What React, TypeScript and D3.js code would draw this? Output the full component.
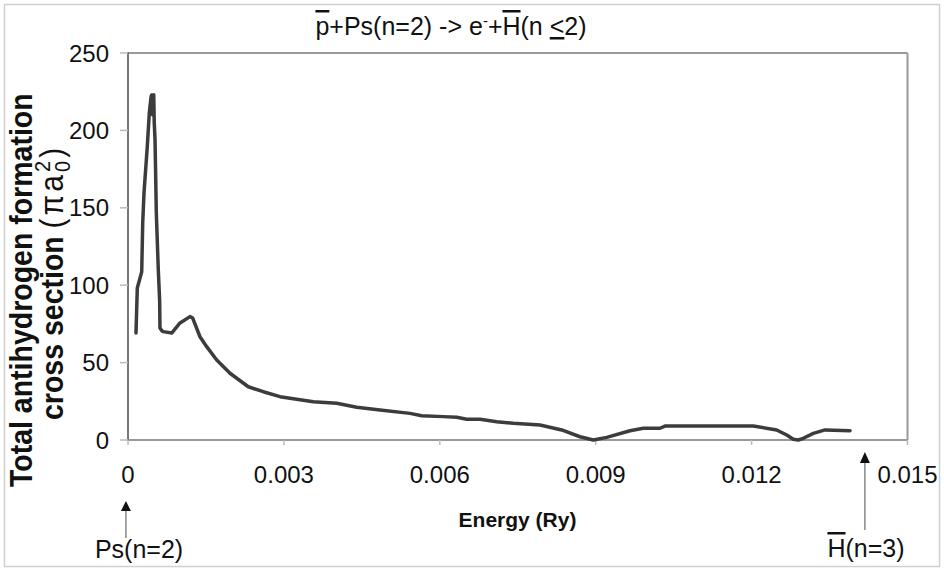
import React from "react";
import * as d3 from "d3";

const energy = [
  0.000154, 0.000179, 0.000264, 0.000283, 0.000308, 0.000371, 0.00041, 0.000445, 0.000456,
  0.000475, 0.00048, 0.000495, 0.000505, 0.00052, 0.000545, 0.000583, 0.000609, 0.000615,
  0.000655, 0.000679, 0.000841, 0.001001, 0.001193, 0.001245, 0.001385, 0.001514, 0.001707,
  0.001963, 0.002092, 0.002315, 0.002604, 0.002925, 0.003566, 0.004016, 0.004401, 0.004849,
  0.005427, 0.005652, 0.006067, 0.006325, 0.006518, 0.006774, 0.007095, 0.007414, 0.007928,
  0.008346, 0.008698, 0.008954, 0.009212, 0.00966, 0.009916, 0.010237, 0.010333, 0.012033,
  0.012483, 0.012676, 0.012803, 0.012899, 0.012995, 0.013188, 0.013413, 0.013894,
];
const crossSection = [
  69.1, 98.2, 108.7, 140.2, 159.6, 189.5, 211.2, 222.0, 222.9,
  210.0, 222.5, 222.9, 205.0, 194.0, 146.6, 110.0, 90.0, 72.4,
  70.4, 70.0, 69.1, 75.6, 79.7, 78.8, 66.7, 60.3, 51.7,
  43.1, 39.9, 34.4, 31.2, 28.0, 24.7, 23.7, 21.1, 19.4,
  17.2, 15.7, 15.1, 14.7, 13.4, 13.4, 11.8, 10.8, 9.7,
  6.5, 2.1, 0, 1.7, 6.0, 7.6, 7.6, 9.0, 9.0,
  6.5, 3.2, 0.5, 0, 1.1, 4.3, 6.5, 6.0,
];
const xTicks = [0, 0.003, 0.006, 0.009, 0.012, 0.015];
const xTickLabels = ["0", "0.003", "0.006", "0.009", "0.012", "0.015"];
const yTicks = [0, 50, 100, 150, 200, 250];
const markers = [
  { e: -0.00004, label: "Ps(n=2)" },
  { e: 0.01418, label: "H(n=3)" },
];

export default function App() {
  const W = 944, H = 571;
  const L = 128, R = 907.5, T = 53, B = 440;
  const x = d3.scaleLinear().domain([0, 0.015]).range([L, R]);
  const y = d3.scaleLinear().domain([0, 250]).range([B, T]);
  const pts: [number, number][] = energy.map((e, i) => [e, crossSection[i]]);
  const line = d3
    .line<[number, number]>()
    .x((d) => x(d[0]))
    .y((d) => y(d[1]));
  const font = "'Liberation Sans', Arial, sans-serif";
  const ps = markers[0];
  const hb = markers[1];
  return (
    <svg
      width={W}
      height={H}
      style={{ position: "absolute", left: 0, top: 0, background: "#fff" }}
      fontFamily={font}
    >
      <rect x={0} y={0} width={W} height={H} fill="#fff" />
      <rect x={4.5} y={4.5} width={935} height={562} fill="none" stroke="#d0d0d0" strokeWidth={1.5} />
      {/* title */}
      <text x={451} y={35} fontSize={25} textAnchor="middle" fill="#111">
        <tspan textDecoration="overline">p</tspan>
        <tspan>+Ps(n=2) -&gt; e</tspan>
        <tspan dy={-9} fontSize={15}>-</tspan>
        <tspan dy={9}>+</tspan>
        <tspan textDecoration="overline">H</tspan>
        <tspan>(n </tspan>
        <tspan textDecoration="underline">&lt;</tspan>
        <tspan>2)</tspan>
      </text>
      {/* plot frame */}
      <line x1={L} x2={R} y1={T} y2={T} stroke="#999" strokeWidth={2} />
      <line x1={R} x2={R} y1={T} y2={B} stroke="#999" strokeWidth={2} />
      <line x1={L} x2={R} y1={B} y2={B} stroke="#999" strokeWidth={2} />
      <line x1={L} x2={L} y1={T - 1} y2={B + 1} stroke="#777" strokeWidth={2} />
      {/* y ticks */}
      {yTicks.map((t) => (
        <g key={"y" + t}>
          <line x1={L - 8} x2={L} y1={y(t)} y2={y(t)} stroke="#bbb" strokeWidth={1.5} />
          <text x={109} y={y(t) + 8.5} fontSize={24} textAnchor="end" fill="#111">
            {t}
          </text>
        </g>
      ))}
      {/* x ticks */}
      {xTicks.map((t, i) => (
        <g key={"x" + t}>
          <line x1={x(t)} x2={x(t)} y1={B} y2={B + 5} stroke="#bbb" strokeWidth={1.5} />
          <text x={x(t)} y={483} fontSize={24} textAnchor="middle" fill="#111">
            {xTickLabels[i]}
          </text>
        </g>
      ))}
      {/* curve */}
      <path d={line(pts) || ""} fill="none" stroke="#3c3c3c" strokeWidth={3.5} strokeLinejoin="round" strokeLinecap="round" />
      {/* axis titles */}
      <text x={517.5} y={527} fontSize={21} fontWeight="bold" textAnchor="middle" fill="#111">
        Energy (Ry)
      </text>
      <text transform="translate(32,487) scale(1.12,1) rotate(-90)" fontSize={28.5} fontWeight="bold" fill="#111">
        Total antihydrogen formation
      </text>
      <text transform="translate(63,420) scale(1.12,1) rotate(-90)" fontSize={28.5} fill="#111">
        <tspan fontWeight="bold">cross section </tspan>
        <tspan fontSize={30} letterSpacing={3}>(πa</tspan>
        <tspan fontSize={20} dy={-12}>2</tspan>
        <tspan fontSize={20} dx={-11} dy={18}>0</tspan>
        <tspan fontSize={30} dy={-6} dx={3}>)</tspan>
      </text>
      {/* markers */}
      <g>
        <line x1={x(ps.e)} x2={x(ps.e)} y1={509} y2={538} stroke="#888" strokeWidth={1.5} />
        <path d={`M${x(ps.e)},501 L${x(ps.e) - 5},511 L${x(ps.e) + 5},511 Z`} fill="#111" />
        <text x={139} y={558} fontSize={25} textAnchor="middle" fill="#111">
          {ps.label}
        </text>
      </g>
      <g>
        <line x1={x(hb.e)} x2={x(hb.e)} y1={461} y2={530} stroke="#888" strokeWidth={1.5} />
        <path d={`M${x(hb.e)},452 L${x(hb.e) - 5},463 L${x(hb.e) + 5},463 Z`} fill="#111" />
        <text x={866} y={557} fontSize={25} textAnchor="middle" fill="#111">
          <tspan textDecoration="overline">H</tspan>
          <tspan>{hb.label.slice(1)}</tspan>
        </text>
      </g>
    </svg>
  );
}
